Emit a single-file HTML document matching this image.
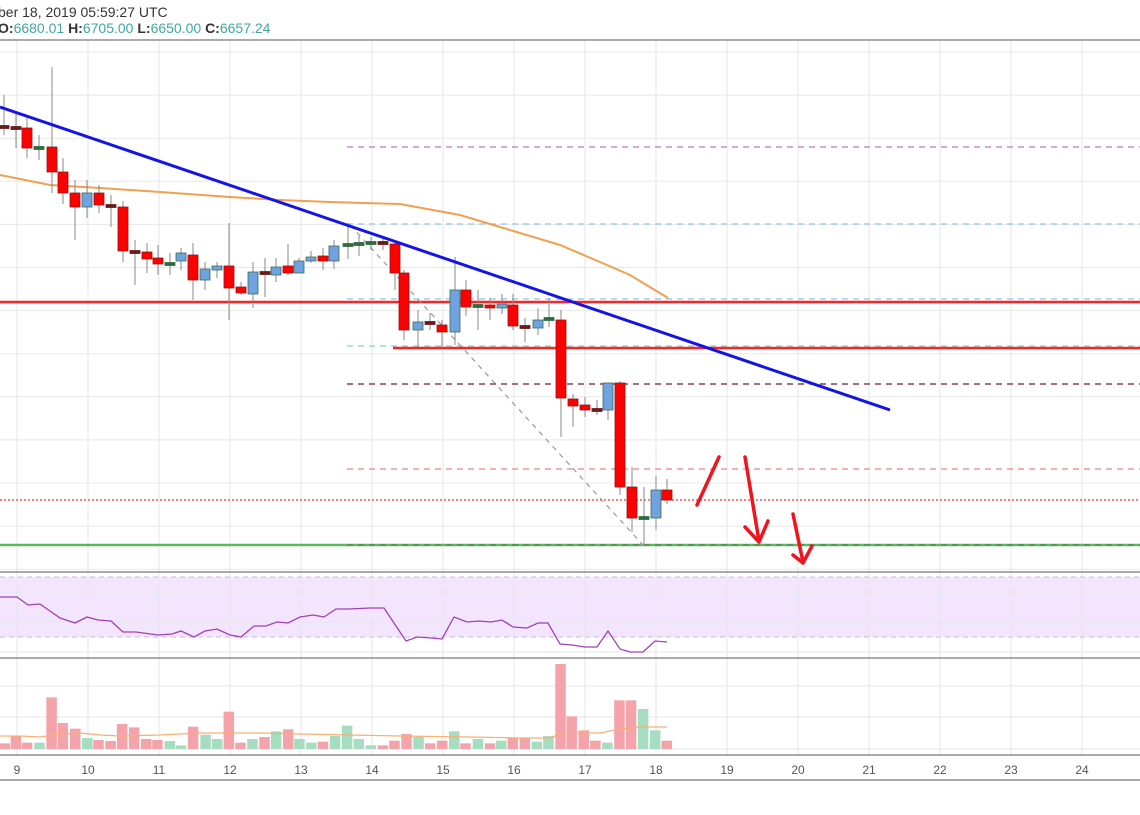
<!DOCTYPE html>
<html><head><meta charset="utf-8">
<style>
html,body{margin:0;padding:0;background:#fff;}
svg{display:block;font-family:"Liberation Sans",sans-serif;}
</style></head>
<body>
<svg id="s" width="1140" height="815" viewBox="0 0 1140 815" xmlns="http://www.w3.org/2000/svg">
<rect width="1140" height="815" fill="#fff"/>
<text x="-2" y="17" font-size="14" fill="#333">ber 18, 2019 05:59:27 UTC</text>
<text x="-2" y="33" font-size="14" fill="#333"><tspan font-weight="bold">O:</tspan><tspan fill="#3fa89d">6680.01 </tspan><tspan font-weight="bold">H:</tspan><tspan fill="#3fa89d">6705.00 </tspan><tspan font-weight="bold">L:</tspan><tspan fill="#3fa89d">6650.00 </tspan><tspan font-weight="bold">C:</tspan><tspan fill="#3fa89d">6657.24</tspan></text>
<g id="grid"></g>
<g id="levels"></g>
<g id="cands"></g>
<g id="over"></g>
</svg>
<script>
var NS="http://www.w3.org/2000/svg";
function el(p,t,a){var e=document.createElementNS(NS,t);for(var k in a)e.setAttribute(k,a[k]);p.appendChild(e);return e;}
var g=document.getElementById('grid'),L=document.getElementById('levels'),C=document.getElementById('cands'),O=document.getElementById('over');
// RSI band
el(g,'rect',{x:0,y:577,width:1140,height:60,fill:'#f3e5fd'});
// vertical grid
for(var i=0;i<16;i++){var x=17+71*i;el(g,'line',{x1:x,y1:41,x2:x,y2:755,stroke:'#e6e6e6','stroke-width':1});
 el(g,'text',{x:x,y:774,'font-size':12,fill:'#555','text-anchor':'middle'}).textContent=(9+i);}
// horizontal grid main
for(var y=52;y<570;y+=43.1){el(g,'line',{x1:0,y1:y,x2:1140,y2:y,stroke:'#e8e8e8'});}
[592,622,652,686,717,749].forEach(function(y){el(g,'line',{x1:0,y1:y,x2:1140,y2:y,stroke:'#e6e6e6'});});
el(g,'line',{x1:0,y1:577,x2:1140,y2:577,stroke:'#cbbbd6','stroke-dasharray':'5,4'});
el(g,'line',{x1:0,y1:637,x2:1140,y2:637,stroke:'#cbbbd6','stroke-dasharray':'5,4'});
// pane borders
[40,572,658,755,780].forEach(function(y){el(g,'line',{x1:0,y1:y,x2:1140,y2:y,stroke:'#777','stroke-width':1.3});});
// levels
function dl(y,x1,c,d,w){el(L,'line',{x1:x1,y1:y,x2:1140,y2:y,stroke:c,'stroke-dasharray':d||'6,5','stroke-width':w||1.3});}
dl(147,347,'#b27ad6');dl(224,347,'#8fc5e6');dl(299,347,'#8fc5e6');dl(346,347,'#7fd6c2');
dl(384,347,'#6b1a3a');dl(469,347,'#f08080');
el(L,'line',{x1:0,y1:302,x2:1140,y2:302,stroke:'#f22',"stroke-width":2.5});
el(L,'line',{x1:393,y1:348,x2:1140,y2:348,stroke:'#f22',"stroke-width":2.5});
el(L,'line',{x1:0,y1:500,x2:1140,y2:500,stroke:'#f33','stroke-dasharray':'2,2','stroke-width':1.3});
el(L,'line',{x1:0,y1:545,x2:1140,y2:545,stroke:'#5cb85c','stroke-width':2.5});
el(L,'line',{x1:347,y1:545,x2:1140,y2:545,stroke:'#555','stroke-dasharray':'6,5','stroke-width':0.8});
// MA
el(L,'polyline',{points:'0,175 50,185 100,188 160,192 230,197 280,200 330,202 400,204 460,215 500,227 560,245 600,262 630,275 668,298',fill:'none',stroke:'#f0a050','stroke-width':2});
el(L,'line',{x1:350,y1:225,x2:643,y2:545,stroke:'#999','stroke-dasharray':'5,5','stroke-width':1.2});
// candles: x,o,c,h,l type r=red b=blue d=dark doji g=green doji
var cs=[[4,127,127,95,135,'d'],[16,128,128,112,148,'d'],[27,128,148,115,158,'r'],[39,148,148,135,160,'g'],[52,147,172,67,193,'r'],[63,172,193,158,204,'r'],[75,193,207,180,240,'r'],[87,207,193,180,218,'b'],[99,193,205,185,213,'r'],[111,206,206,195,227,'d'],[123,207,251,201,262,'r'],[135,252,252,240,285,'d'],[147,252,259,243,273,'r'],[158,258,264,245,275,'r'],[170,264,264,253,275,'g'],[181,261,253,248,270,'b'],[193,255,280,243,300,'r'],[205,280,269,262,290,'b'],[217,270,266,262,278,'b'],[229,266,288,223,320,'r'],[241,287,293,282,295,'r'],[253,294,272,262,308,'b'],[265,273,273,258,297,'d'],[276,275,267,258,282,'b'],[288,266,273,244,275,'r'],[299,273,261,258,273,'b'],[311,261,257,251,263,'b'],[323,256,261,248,270,'r'],[334,261,246,240,269,'b'],[348,245,245,223,259,'g'],[359,244,244,236,256,'g'],[371,243,243,237,250,'g'],[383,243,243,236,250,'d'],[395,244,273,243,290,'r'],[404,273,330,270,340,'r'],[418,330,322,310,347,'b'],[430,323,323,313,330,'d'],[442,325,332,320,348,'r'],[455,332,290,257,345,'b'],[466,290,307,280,316,'r'],[478,306,306,290,330,'g'],[490,305,308,298,320,'r'],[502,308,304,294,314,'b'],[513,305,326,294,330,'r'],[525,327,327,318,342,'d'],[538,328,320,308,335,'b'],[549,319,319,298,327,'g'],[561,320,398,310,437,'r'],[573,399,406,394,427,'r'],[585,405,410,397,417,'r'],[597,410,412,400,415,'d'],[608,410,383,383,420,'b'],[620,383,487,381,495,'r'],[632,487,518,467,532,'r'],[644,518,518,487,545,'g'],[656,518,490,476,530,'b'],[667,490,500,479,504,'r']];
cs.forEach(function(c){var x=c[0],t=Math.min(c[1],c[2]),b=Math.max(c[1],c[2]);
 el(C,'line',{x1:x,y1:c[3],x2:x,y2:c[4],stroke:'#888','stroke-width':1});
 var fill={r:'#f00',b:'#6fa3e0',d:'#6b1a1a',g:'#2f6b3f'}[c[5]],st={r:'#8a1a1a',b:'#3d6b5a',d:'#6b1a1a',g:'#2f6b3f'}[c[5]];
 if(b-t<3){t-=1.5;b=t+3;}
 el(C,'rect',{x:x-5,y:t,width:10,height:b-t,fill:fill,stroke:st,'stroke-width':0.8});});
// trendline
el(O,'line',{x1:0,y1:107,x2:890,y2:410,stroke:'#1414e6','stroke-width':3});
// arrows
var ap={fill:'none',stroke:'#f0141e','stroke-width':3.5,'stroke-linecap':'round','stroke-linejoin':'round'};
el(O,'line',Object.assign({x1:697,y1:505,x2:719,y2:457},ap));
el(O,'polyline',Object.assign({points:'745,457 759,541'},ap));
el(O,'polyline',Object.assign({points:'745,527 759,542 768,521'},ap));
el(O,'polyline',Object.assign({points:'793,514 803,562'},ap));
el(O,'polyline',Object.assign({points:'793,555 803,563 812,546'},ap));
// RSI
var r=[[0,597],[17,597],[28,605],[40,604],[60,618],[75,623],[87,617],[98,620],[111,621],[123,632],[136,632],[158,635],[172,634],[181,631],[194,637],[205,631],[217,629],[230,635],[241,637],[254,626],[266,626],[277,622],[288,623],[300,617],[313,615],[324,617],[336,609],[348,609],[371,608],[384,608],[406,641],[417,637],[431,638],[442,639],[454,617],[467,622],[479,621],[491,622],[502,620],[513,627],[527,628],[538,623],[548,623],[560,644],[572,645],[585,647],[597,647],[608,631],[620,649],[630,652],[643,652],[655,641],[667,642]];
el(O,'polyline',{points:r.map(function(p){return p.join(',')}).join(' '),fill:'none',stroke:'#a040b8','stroke-width':1.3});
// volume
var v=[[10,550,'r'],[35,528,'r'],[60,548,'r'],[88,548,'g'],[115,412,'r'],[140,489,'r'],[168,506,'r'],[195,534,'g'],[220,540,'r'],[247,543,'r'],[273,492,'r'],[300,502,'r'],[327,537,'r'],[352,540,'r'],[380,543,'g'],[405,556,'g'],[432,500,'r'],[460,524,'g'],[486,537,'g'],[512,455,'r'],[538,548,'r'],[565,537,'g'],[592,531,'r'],[618,514,'g'],[645,508,'r'],[670,537,'g'],[697,548,'g'],[723,545,'r'],[750,528,'g'],[777,497,'g'],[803,537,'g'],[830,556,'g'],[857,556,'r'],[883,542,'r'],[910,522,'r'],[937,531,'g'],[963,550,'r'],[990,542,'r'],[1017,514,'g'],[1042,550,'r'],[1070,537,'g'],[1097,550,'r'],[1122,542,'g'],[1148,534,'r'],[1175,534,'r'],[1202,545,'g'],[1228,528,'g'],[1255,312,'r'],[1280,469,'r'],[1307,511,'r'],[1333,542,'r'],[1360,548,'g'],[1387,421,'r'],[1413,421,'r'],[1440,447,'g'],[1467,511,'g'],[1493,542,'r']];
v.forEach(function(b){var x=b[0]/2.24,y=560+b[1]/3;el(O,'rect',{x:x-5,y:y,width:10.5,height:749-y,fill:b[2]=='r'?'#f4a3aa':'#a6dcc0'});});
el(O,'polyline',{points:'0,736 20,736 40,737 60,734 80,733 100,735 120,736 160,735 200,733 260,733 300,734 400,736 470,737 520,738 550,738 560,734 580,733 600,733 620,729 640,727 667,727',fill:'none',stroke:'#f7b070','stroke-width':1.3});
</script>
</body></html>
